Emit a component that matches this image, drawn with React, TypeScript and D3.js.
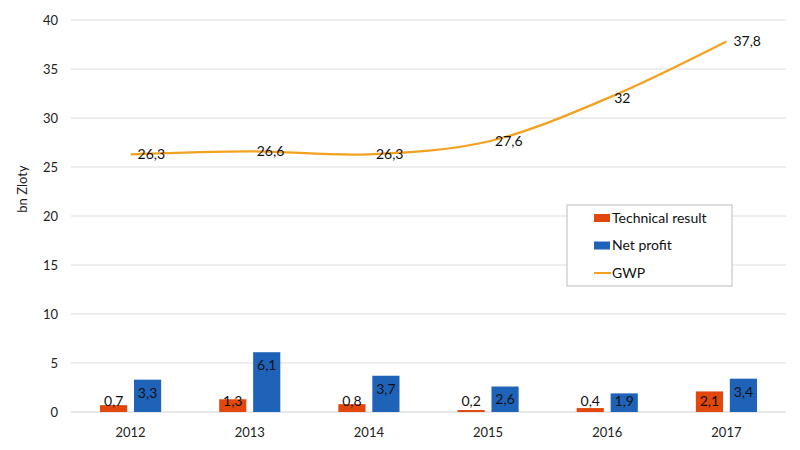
import React, { useEffect, useRef } from 'react';
import * as d3 from 'd3';

const YEARS = ['2012', '2013', '2014', '2015', '2016', '2017'];
const TECHNICAL = [0.7, 1.3, 0.8, 0.2, 0.4, 2.1];
const NET_PROFIT = [3.3, 6.1, 3.7, 2.6, 1.9, 3.4];
const GWP = [26.3, 26.6, 26.3, 27.6, 32, 37.8];
const Y_TICKS = [0, 5, 10, 15, 20, 25, 30, 35, 40];

const WIDTH = 800;
const HEIGHT = 450;
const FONT = 'Lato, "Open Sans", sans-serif';
const COLORS = { tech: '#E2470E', net: '#1F63B9', gwp: '#F2A21E' };

const fmt = (v: number) => String(v).replace('.', ',');

const App: React.FC = () => {
  const ref = useRef<SVGSVGElement>(null);

  useEffect(() => {
    if (!ref.current) return;
    const svg = d3.select(ref.current);
    svg.selectAll('*').remove();

    const left = 71, right = 786, top = 20, bottom = 412;

    const x0 = d3.scaleBand<string>().domain(YEARS).range([left, right])
      .paddingInner(0.487).paddingOuter(0.2435);
    const x1 = d3.scaleBand<string>().domain(['tech', 'net'])
      .range([0, x0.bandwidth()]).paddingInner(0.2);
    const y = d3.scaleLinear().domain([0, 40]).range([bottom, top]);
    const xc = (d: string) => (x0(d) as number) + x0.bandwidth() / 2;

    // gridlines
    svg.append('g').selectAll('line').data(Y_TICKS).enter().append('line')
      .attr('x1', left).attr('x2', right)
      .attr('y1', d => y(d)).attr('y2', d => y(d))
      .attr('stroke', d => (d === 0 ? '#d0d0d0' : '#dcdcdc')).attr('stroke-width', 1);

    // y labels
    svg.append('g').selectAll('text').data(Y_TICKS).enter().append('text')
      .attr('x', 58).attr('y', d => y(d)).attr('dy', '0.35em')
      .attr('text-anchor', 'end').attr('font-family', FONT).attr('font-size', 13)
      .attr('fill', '#222').text(d => d);

    svg.append('text')
      .attr('transform', 'translate(27,189) rotate(-90)')
      .attr('text-anchor', 'middle').attr('font-family', FONT).attr('font-size', 13)
      .attr('fill', '#222').text('bn Zloty');

    // x labels
    svg.append('g').selectAll('text').data(YEARS).enter().append('text')
      .attr('x', d => xc(d)).attr('y', 437).attr('text-anchor', 'middle')
      .attr('font-family', FONT).attr('font-size', 13).attr('fill', '#222').text(d => d);

    // bars
    const series = [
      { key: 'tech', values: TECHNICAL, color: COLORS.tech },
      { key: 'net', values: NET_PROFIT, color: COLORS.net },
    ];
    series.forEach(s => {
      const g = svg.append('g');
      g.selectAll('rect').data(s.values).enter().append('rect')
        .attr('x', (_, i) => (x0(YEARS[i]) as number) + (x1(s.key) as number))
        .attr('y', d => y(d)).attr('width', x1.bandwidth())
        .attr('height', d => y(0) - y(d)).attr('fill', s.color);
      g.selectAll('text').data(s.values).enter().append('text')
        .attr('x', (_, i) => (x0(YEARS[i]) as number) + (x1(s.key) as number) + x1.bandwidth() / 2)
        .attr('y', d => Math.min(y(d) + 13, y(0) - 11)).attr('dy', '0.35em')
        .attr('text-anchor', 'middle').attr('font-family', FONT).attr('font-size', 14)
        .attr('fill', '#111').text(d => fmt(d));
    });

    // GWP line
    const line = d3.line<number>()
      .x((_, i) => xc(YEARS[i])).y(d => y(d))
      .curve(d3.curveCatmullRom.alpha(0.5));
    svg.append('path').datum(GWP).attr('d', line).attr('fill', 'none')
      .attr('stroke', COLORS.gwp).attr('stroke-width', 2.25);

    svg.append('g').selectAll('text').data(GWP).enter().append('text')
      .attr('x', (_, i) => xc(YEARS[i]) + 7).attr('y', d => y(d)).attr('dy', '0.35em')
      .attr('font-family', FONT).attr('font-size', 14).attr('fill', '#111').text(d => fmt(d));

    // legend
    const lg = svg.append('g');
    lg.append('rect').attr('x', 567).attr('y', 205).attr('width', 165).attr('height', 81)
      .attr('fill', '#fff').attr('stroke', '#bcbcbc');
    const items = [
      { label: 'Technical result', color: COLORS.tech, type: 'rect' },
      { label: 'Net profit', color: COLORS.net, type: 'rect' },
      { label: 'GWP', color: COLORS.gwp, type: 'line' },
    ];
    items.forEach((it, i) => {
      const cy = 218 + i * 27.5;
      if (it.type === 'rect') {
        lg.append('rect').attr('x', 594).attr('y', cy - 4).attr('width', 16).attr('height', 8)
          .attr('fill', it.color);
      } else {
        lg.append('line').attr('x1', 594).attr('x2', 611).attr('y1', cy).attr('y2', cy)
          .attr('stroke', it.color).attr('stroke-width', 2);
      }
      lg.append('text').attr('x', 612).attr('y', cy).attr('dy', '0.35em')
        .attr('font-family', FONT).attr('font-size', 14).attr('fill', '#111').text(it.label);
    });
  }, []);

  return (
    <svg ref={ref} width={WIDTH} height={HEIGHT}
      style={{ position: 'absolute', left: 0, top: 0, background: '#fff' }} />
  );
};

export default App;
